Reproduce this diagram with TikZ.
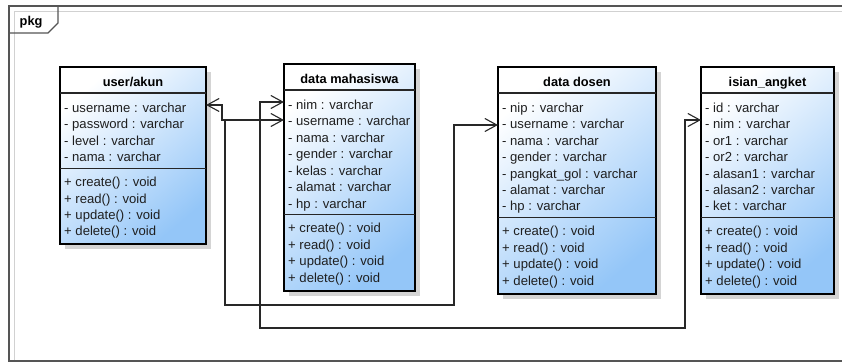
\documentclass[tikz,border=0pt]{standalone}
\usepackage{fontspec}
\setmainfont{Liberation Sans}
\usetikzlibrary{arrows.meta,calc}

\definecolor{clsblue}{RGB}{148,198,248}
\definecolor{framegray}{RGB}{85,85,85}
\definecolor{shadowgray}{RGB}{212,212,212}
\definecolor{linkgray}{RGB}{40,40,40}

\tikzset{
  member/.style={anchor=base west, inner sep=0pt, text=black!88,
    font=\fontsize{13.1}{15}\selectfont},
  clstitle/.style={anchor=base, inner sep=0pt, font=\bfseries\fontsize{12.8}{15}\selectfont},
  classbody/.style={draw=black, line width=2pt, inner sep=0pt, outer sep=0pt,
    top color=white, bottom color=clsblue, shading angle=40},
  compartment/.style={line width=1.2pt, draw=black!85},
  assoc/.style={draw=linkgray, line width=1.1pt,
    arrows={Straight Barb[length=12pt,width=13pt,line width=1.1pt]-Straight Barb[length=12pt,width=13pt,line width=1.1pt]}},
  assocto/.style={draw=linkgray, line width=1.1pt,
    arrows={-Straight Barb[length=12pt,width=13pt,line width=1.1pt]}},
  framedraw/.style={draw=framegray, line width=1.4pt},
}

% #1 name, #2 left, #3 top, #4 width, #5 title, #6 number of attributes,
% #7 attributes, #8 operations
\newcommand\umlclass[8]{%
  \pgfmathsetmacro\clsR{#2+#4}%
  \pgfmathsetmacro\clsHd{#3+26}%
  \pgfmathsetmacro\clsS{#3+41+(#6-1)*16.4+11}%
  \pgfmathsetmacro\clsB{\clsS+14+3*16.4+13}%
  \pgfmathsetmacro\clsHt{\clsB-#3}%
  \fill[shadowgray] (#2+5,#3+5) rectangle (\clsR+5,\clsB+5);
  \node[classbody, anchor=north west, minimum width=#4pt,
        minimum height=\clsHt pt] (#1) at (#2,#3) {};
  \draw[compartment] (#2,\clsHd) -- (\clsR,\clsHd);
  \draw[compartment] (#2,\clsS) -- (\clsR,\clsS);
  \node[clstitle] (#1-title) at ({#2+#4/2},#3+19.3) {#5};
  \foreach \txt [count=\i] in {#7}
    \node[member] (#1-a\i) at (#2+4,{#3+41+(\i-1)*16.4+4.6}) {\txt};
  \foreach \txt [count=\i] in {#8}
    \node[member] (#1-o\i) at (#2+4,{\clsS+14+(\i-1)*16.4+4.6}) {\txt};
}

\begin{document}
\begin{tikzpicture}[x=1pt,y=-1pt]
  \useasboundingbox (0,0) rectangle (842,363);
  \fill[white] (0,0) rectangle (842,363);

  % package frame with its name tab
  \draw[black!18, line width=0.8pt] (14,361) -- (14,11) -- (842,11);
  \draw[framedraw] (843,6) -- (9,6) -- (9,361) -- (843,361);
  \draw[framedraw, line width=1.1pt] (9,33) -- (48,33) -- (58,23) -- (58,6);
  \node[inner sep=0pt, anchor=base west, font=\bfseries\fontsize{12.8}{15}\selectfont]
    (pkgname) at (19.5,26) {pkg};

  % classes
  \umlclass{user}{60}{67}{146}{user/akun}{4}
    {- username : varchar, - password : varchar, - level : varchar, - nama : varchar}
    {+ create() : void, + read() : void, + update() : void, + delete() : void}
  \umlclass{mhs}{284}{64}{131}{data mahasiswa}{7}
    {- nim : varchar, - username : varchar, - nama : varchar, - gender : varchar,
     - kelas : varchar, - alamat : varchar, - hp : varchar}
    {+ create() : void, + read() : void, + update() : void, + delete() : void}
  \umlclass{dosen}{498}{67}{158}{data dosen}{7}
    {- nip : varchar, - username : varchar, - nama : varchar, - gender : varchar,
     - pangkat\_gol : varchar, - alamat : varchar, - hp : varchar}
    {+ create() : void, + read() : void, + update() : void, + delete() : void}
  \umlclass{angket}{701}{67}{133}{isian\_angket}{7}
    {- id : varchar, - nim : varchar, - or1 : varchar, - or2 : varchar,
     - alasan1 : varchar, - alasan2 : varchar, - ket : varchar}
    {+ create() : void, + read() : void, + update() : void, + delete() : void}

  % association end points on the class borders
  \coordinate (userR)  at ($(user.north east)+(0,38)$);
  \coordinate (mhsL1)  at ($(mhs.north west)+(0,38)$);
  \coordinate (mhsL2)  at ($(mhs.north west)+(0,56)$);
  \coordinate (dosenL) at ($(dosen.north west)+(0,58)$);
  \coordinate (angL)   at ($(angket.north west)+(0,53)$);
  \coordinate (split)  at ($(userR)+(19,15)$);

  % associations
  \draw[assoc] (userR) -- ++(16,0) |- (mhsL2);
  \draw[assocto] (split) |- ($(dosenL)+(-44,180)$) |- (dosenL);
  \draw[assoc] (mhsL1) -- ++(-24,0) |- ($(angL)+(-16,208)$) |- (angL);
\end{tikzpicture}
\end{document}
